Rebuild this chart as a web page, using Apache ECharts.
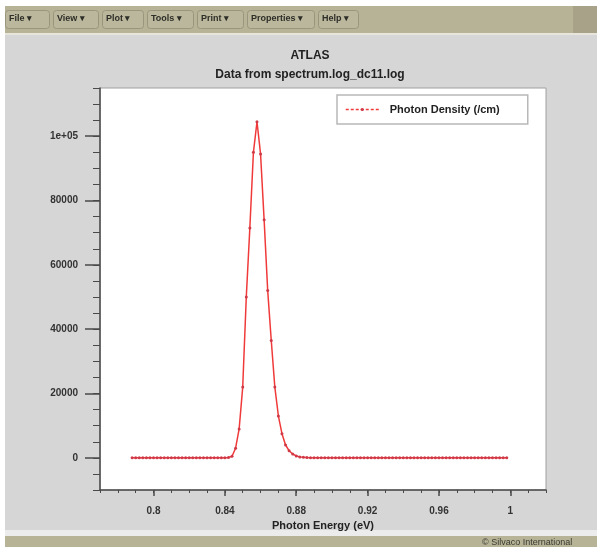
<!DOCTYPE html>
<html><head><meta charset="utf-8">
<script src="https://cdn.jsdelivr.net/npm/echarts@6/dist/echarts.min.js"></script>
<style>html,body{margin:0;padding:0;background:#fff}#c{width:597px;height:547px}</style>
</head><body><div id="c"></div>
<script>
// ---- data ----
const energy = [
  0.788,0.790,0.792,0.794,0.796,0.798,
  0.800,0.802,0.804,0.806,0.808,0.810,0.812,0.814,0.816,0.818,
  0.820,0.822,0.824,0.826,0.828,0.830,0.832,0.834,0.836,0.838,
  0.840,0.842,0.844,0.846,0.848,0.850,0.852,0.854,0.856,0.858,
  0.860,0.862,0.864,0.866,0.868,0.870,0.872,0.874,0.876,0.878,
  0.880,0.882,0.884,0.886,0.888,0.890,0.892,0.894,0.896,0.898,
  0.900,0.902,0.904,0.906,0.908,0.910,0.912,0.914,0.916,0.918,
  0.920,0.922,0.924,0.926,0.928,0.930,0.932,0.934,0.936,0.938,
  0.940,0.942,0.944,0.946,0.948,0.950,0.952,0.954,0.956,0.958,
  0.960,0.962,0.964,0.966,0.968,0.970,0.972,0.974,0.976,0.978,
  0.980,0.982,0.984,0.986,0.988,0.990,0.992,0.994,0.996,0.998
];
const density = [
  0,0,0,0,0,0,
  0,0,0,0,0,0,0,0,0,0,
  0,0,0,0,0,0,0,0,0,0,
  0,100,500,3000,9000,22000,50000,71500,95000,104500,
  94500,74000,52000,36500,22000,13000,7500,4000,2200,1200,
  600,300,150,80,40,20,0,0,0,0,
  0,0,0,0,0,0,0,0,0,0,
  0,0,0,0,0,0,0,0,0,0,
  0,0,0,0,0,0,0,0,0,0,
  0,0,0,0,0,0,0,0,0,0,
  0,0,0,0,0,0,0,0,0,0
];
const xTickValues = [0.8, 0.84, 0.88, 0.92, 0.96, 1.0];
const xTickLabels = ['0.8', '0.84', '0.88', '0.92', '0.96', '1'];
const yTickValues = [0, 20000, 40000, 60000, 80000, 100000];
const yTickLabels = ['0', '20000', '40000', '60000', '80000', '1e+05'];
const menuItems = ['File', 'View', 'Plot', 'Tools', 'Print', 'Properties', 'Help'];
const seriesName = 'Photon Density (/cm)';
const titleText = 'ATLAS';
const subtitleText = 'Data from spectrum.log_dc11.log';
const xAxisTitle = 'Photon Energy (eV)';
const footerText = '\u00A9 Silvaco International';

// ---- layout ----
const G = {left: 100, top: 88, width: 446, height: 402};
const X_MIN = 0.77, X_MAX = 1.02, Y_MIN = -10000, Y_MAX = 115000;
const px = v => G.left + (v - X_MIN) / (X_MAX - X_MIN) * G.width;
const py = v => G.top + (Y_MAX - v) / (Y_MAX - Y_MIN) * G.height;
const G2 = {
  left: px(xTickValues[0]),
  width: px(xTickValues[xTickValues.length - 1]) - px(xTickValues[0]),
  top: py(yTickValues[yTickValues.length - 1]),
  height: py(yTickValues[0]) - py(yTickValues[yTickValues.length - 1])
};
const fmtLabel = (vals, labels) => v => {
  for (let i = 0; i < vals.length; i++) if (Math.abs(v - vals[i]) < 1e-6 * Math.max(1, Math.abs(vals[i]))) return labels[i];
  return '';
};
const FONT = 'Liberation Sans';
const axisCol = '#4a4a4a';

// window chrome graphics (drawn behind everything)
const menuX = [9, 57, 106, 151, 201, 251, 322];
const menuEnd = 366;
const BZ = -100;
const gfx = [
  {type: 'rect', z: BZ, left: 5, top: 6, shape: {width: 592, height: 27}, style: {fill: '#b6b397'}, silent: true},
  {type: 'rect', z: BZ, left: 573, top: 6, shape: {width: 24, height: 27}, style: {fill: '#a8a288'}, silent: true},
  {type: 'rect', z: BZ, left: 5, top: 33, shape: {width: 592, height: 2}, style: {fill: '#e8e6dc'}, silent: true},
  {type: 'rect', z: BZ, left: 5, top: 35, shape: {width: 592, height: 495}, style: {fill: '#d6d6d6'}, silent: true},
  {type: 'rect', z: BZ + 1, left: G.left, top: G.top, shape: {width: G.width, height: G.height}, style: {fill: '#ffffff'}, silent: true},
  {type: 'rect', z: BZ, left: 5, top: 530, shape: {width: 592, height: 6}, style: {fill: '#ececec'}, silent: true},
  {type: 'rect', z: BZ, left: 5, top: 536, shape: {width: 592, height: 11}, style: {fill: '#b6b397'}, silent: true},
  {type: 'text', left: 482, top: 538, style: {text: footerText, font: '9px ' + FONT, fill: '#3a3a30'}, silent: true}
];
menuItems.forEach((m, i) => {
  const next = i < menuItems.length - 1 ? menuX[i + 1] : menuEnd;
  gfx.push({type: 'rect', z: BZ + 1, left: menuX[i] - 4, top: 10, shape: {width: next - menuX[i] - 4, height: 18, r: 3}, style: {fill: '#bab79c', stroke: '#9a967e', lineWidth: 1}, silent: true});
  gfx.push({type: 'text', left: menuX[i], top: 14, style: {text: m + ' \u25BE', font: 'bold 9px ' + FONT, fill: '#2e2e28'}, silent: true});
});

const chart = echarts.init(document.getElementById('c'), null, {renderer: 'canvas'});
chart.setOption({
  backgroundColor: '#ffffff',
  animation: false,
  graphic: gfx,
  title: [
    {text: titleText, left: 305, top: 45, textAlign: 'center', textStyle: {fontFamily: FONT, fontSize: 12, fontWeight: 'bold', color: '#222'}},
    {text: subtitleText, left: 305, top: 64, textAlign: 'center', textStyle: {fontFamily: FONT, fontSize: 12, fontWeight: 'bold', color: '#222'}}
  ],
  legend: {
    left: 337, top: 95,
    backgroundColor: '#ffffff', borderColor: '#b8b8b8', borderWidth: 1.5, borderRadius: 0,
    padding: [9, 28, 9, 8],
    itemWidth: 33, itemHeight: 4, itemGap: 10,
    textStyle: {fontFamily: FONT, fontSize: 11, fontWeight: 'bold', color: '#222', padding: [0, 0, 0, 6]},
    data: [{name: seriesName, lineStyle: {type: [3, 2], width: 1.5, color: '#f03a3a'}, itemStyle: {color: '#cf3a48'}}]
  },
  grid: [
    {left: G.left, top: G.top, width: G.width, height: G.height, show: true, backgroundColor: 'transparent', borderColor: '#a0a0a0', borderWidth: 1},
    {left: G2.left, top: G2.top, width: G2.width, height: G2.height, show: false}
  ],
  xAxis: [
    {gridIndex: 0, type: 'value', min: X_MIN, max: X_MAX, interval: 0.01,
     axisLine: {show: true, onZero: false, lineStyle: {color: axisCol, width: 1.5}},
     axisTick: {show: true, inside: false, length: 3, lineStyle: {color: axisCol}},
     axisLabel: {show: false}, splitLine: {show: false},
     name: xAxisTitle, nameLocation: 'middle', nameGap: 30,
     nameTextStyle: {fontFamily: FONT, fontSize: 11, fontWeight: 'bold', color: '#222'}},
    {gridIndex: 1, type: 'value', min: xTickValues[0], max: xTickValues[xTickValues.length - 1], interval: 0.04,
     position: 'bottom', offset: (G.top + G.height) - (G2.top + G2.height),
     axisLine: {show: false, onZero: false},
     axisTick: {show: true, length: 6, lineStyle: {color: axisCol, width: 1.5}},
     axisLabel: {show: true, margin: 16, formatter: fmtLabel(xTickValues, xTickLabels),
       fontFamily: FONT, fontSize: 10, fontWeight: 'bold', color: '#333'},
     splitLine: {show: false}}
  ],
  yAxis: [
    {gridIndex: 0, type: 'value', min: Y_MIN, max: Y_MAX, interval: 5000,
     axisLine: {show: true, onZero: false, lineStyle: {color: axisCol, width: 1.5}},
     axisTick: {show: true, length: 7, lineStyle: {color: axisCol}},
     axisLabel: {show: false}, splitLine: {show: false}},
    {gridIndex: 1, type: 'value', min: yTickValues[0], max: yTickValues[yTickValues.length - 1], interval: 20000,
     position: 'left', offset: G2.left - G.left,
     axisLine: {show: false, onZero: false},
     axisTick: {show: true, length: 15, lineStyle: {color: axisCol, width: 1.5}},
     axisLabel: {show: true, margin: 22, formatter: fmtLabel(yTickValues, yTickLabels),
       fontFamily: FONT, fontSize: 10, fontWeight: 'bold', color: '#333'},
     splitLine: {show: false}}
  ],
  series: [{
    name: seriesName, type: 'line', xAxisIndex: 0, yAxisIndex: 0,
    data: energy.map((e, i) => [e, density[i]]),
    showSymbol: true, symbol: 'circle', symbolSize: 3,
    itemStyle: {color: '#cf3a48', borderWidth: 0},
    lineStyle: {color: '#f03a3a', width: 1.5},
    clip: true
  }]
});
</script></body></html>
